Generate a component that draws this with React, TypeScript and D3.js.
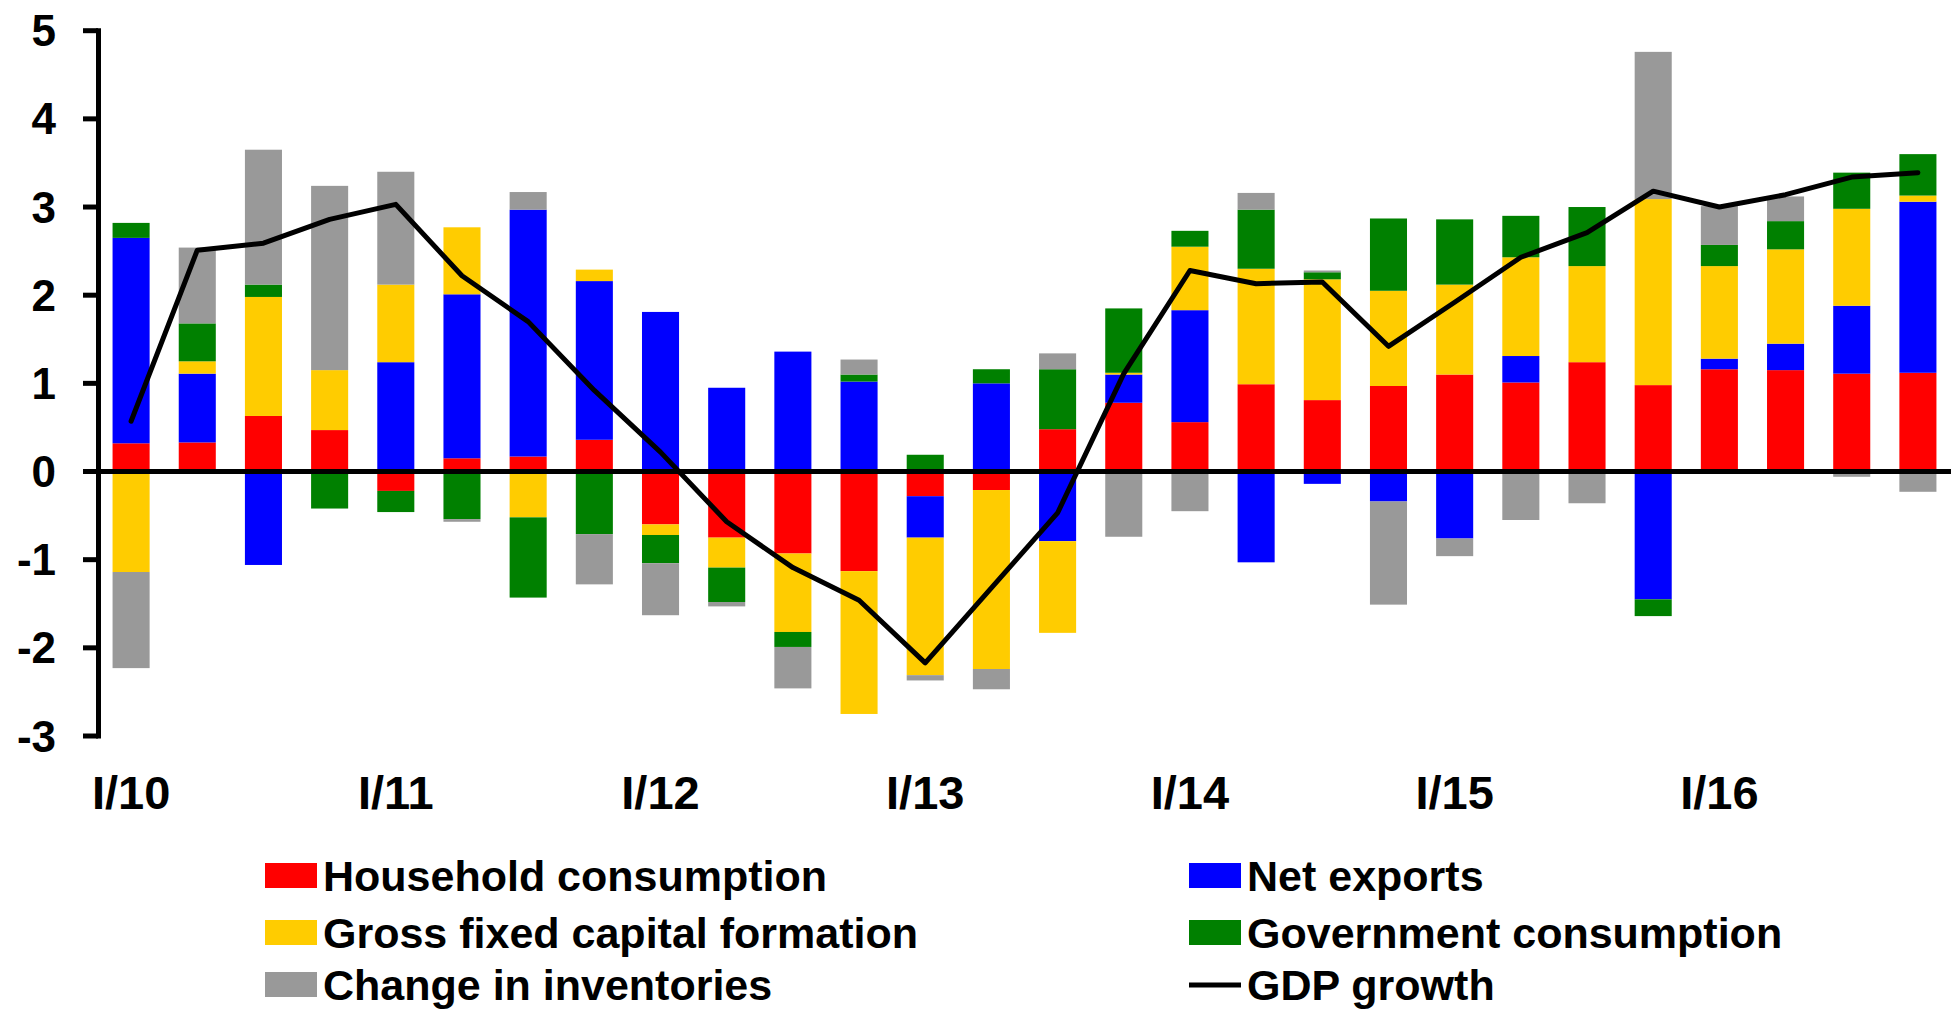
import React from "react";
import * as d3 from "d3";

const quarters: string[] = [];
const years = ["10", "11", "12", "13", "14", "15", "16"];
const qNames = ["I", "II", "III", "IV"];
years.forEach((y) => qNames.forEach((q) => quarters.push(`${q}/${y}`)));

const tickLabels = ["I/10", "I/11", "I/12", "I/13", "I/14", "I/15", "I/16"];
const yTicks = [-3, -2, -1, 0, 1, 2, 3, 4, 5];

const household = [0.32, 0.33, 0.63, 0.47, -0.22, 0.15, 0.17, 0.36, -0.6, -0.75, -0.93, -1.13, -0.28, -0.21, 0.48, 0.78, 0.56, 0.99, 0.81, 0.97, 1.1, 1.01, 1.24, 0.98, 1.16, 1.15, 1.11, 1.12];
const netExports = [2.33, 0.78, -1.06, 0, 1.24, 1.86, 2.8, 1.8, 1.81, 0.95, 1.36, 1.02, -0.47, 1.0, -0.79, 0.32, 1.27, -1.03, -0.14, -0.34, -0.76, 0.3, 0, -1.45, 0.12, 0.3, 0.77, 1.94];
const gfcf = [-1.14, 0.14, 1.35, 0.68, 0.88, 0.76, -0.52, 0.13, -0.12, -0.34, -0.89, -1.62, -1.56, -2.03, -1.04, 0.02, 0.72, 1.31, 1.37, 1.08, 1.02, 1.12, 1.09, 2.11, 1.05, 1.07, 1.1, 0.07];
const govt = [0.17, 0.43, 0.14, -0.42, -0.24, -0.54, -0.91, -0.71, -0.32, -0.39, -0.17, 0.08, 0.19, 0.16, 0.68, 0.73, 0.18, 0.67, 0.08, 0.82, 0.74, 0.47, 0.67, -0.19, 0.24, 0.32, 0.41, 0.47];
const inventories = [-1.09, 0.86, 1.53, 2.09, 1.28, -0.03, 0.2, -0.57, -0.59, -0.05, -0.47, 0.17, -0.06, -0.23, 0.18, -0.74, -0.45, 0.19, 0.02, -1.17, -0.2, -0.55, -0.36, 1.67, 0.44, 0.28, -0.06, -0.23];
const gdp = [0.57, 2.51, 2.59, 2.86, 3.03, 2.22, 1.7, 0.92, 0.22, -0.57, -1.09, -1.46, -2.17, -1.32, -0.47, 1.11, 2.28, 2.13, 2.15, 1.42, 1.92, 2.43, 2.71, 3.18, 3.0, 3.14, 3.34, 3.39];

const seriesKeys = ["household", "netExports", "gfcf", "govt", "inventories"];
const seriesNames = ["Household consumption", "Net exports", "Gross fixed capital formation", "Government consumption", "Change in inventories"];
const seriesColors = ["#FF0000", "#0000FF", "#FFCC00", "#008000", "#999999"];

const FONT = "'Liberation Sans', Arial, sans-serif";

export default function App() {
  const rows = quarters.map((q, i) => ({
    q,
    household: household[i],
    netExports: netExports[i],
    gfcf: gfcf[i],
    govt: govt[i],
    inventories: inventories[i],
  }));

  const x = d3.scaleBand<string>().domain(quarters).range([98, 1951]).paddingInner(0.44).paddingOuter(0.22);
  const y = d3.scaleLinear().domain([-3, 5]).range([736, 30.7]);

  const stacked = d3
    .stack<any>()
    .keys(seriesKeys)
    .order(d3.stackOrderNone)
    .offset(d3.stackOffsetDiverging)(rows);

  const line = d3
    .line<number>()
    .x((_, i) => (x(quarters[i]) as number) + x.bandwidth() / 2)
    .y((d) => y(d));

  const legendLeft = [
    { idx: 0, row: 0 },
    { idx: 2, row: 1 },
    { idx: 4, row: 2 },
  ];
  const legendRight = [
    { idx: 1, row: 0 },
    { idx: 3, row: 1 },
  ];
  const rowBase = [891, 948, 1000];
  const LFS = 43;

  return (
    <svg width={1952} height={1010} style={{ position: "absolute", left: 0, top: 0, background: "#fff" }}>
      <g>
        {stacked.map((s, si) => (
          <g key={s.key} fill={seriesColors[si]}>
            {s.map((d, i) => {
              const y0 = y(d[0]);
              const y1 = y(d[1]);
              const h = Math.abs(y0 - y1);
              if (h < 0.01) return null;
              return <rect key={i} x={x(quarters[i])} width={x.bandwidth()} y={Math.min(y0, y1)} height={h} />;
            })}
          </g>
        ))}
      </g>
      {/* zero line */}
      <line x1={83} x2={1951} y1={y(0)} y2={y(0)} stroke="#000" strokeWidth={5} />
      {/* y axis */}
      <line x1={98.5} x2={98.5} y1={y(5) - 2.5} y2={y(-3) + 2.5} stroke="#000" strokeWidth={5} />
      {yTicks.map((t) => (
        <g key={t}>
          <line x1={83} x2={98} y1={y(t)} y2={y(t)} stroke="#000" strokeWidth={5} />
          <text x={56} y={y(t) + 15.5} textAnchor="end" fontFamily={FONT} fontWeight="bold" fontSize={44} fill="#000">
            {t}
          </text>
        </g>
      ))}
      {/* GDP line */}
      <path d={line(gdp) as string} fill="none" stroke="#000" strokeWidth={5} strokeLinejoin="round" strokeLinecap="round" />
      {/* x labels */}
      {tickLabels.map((t) => (
        <text
          key={t}
          x={(x(t) as number) + x.bandwidth() / 2}
          y={809}
          textAnchor="middle"
          fontFamily={FONT}
          fontWeight="bold"
          fontSize={47}
          fill="#000"
        >
          {t}
        </text>
      ))}
      {/* legend */}
      {legendLeft.map(({ idx, row }) => (
        <g key={idx}>
          <rect x={265} y={rowBase[row] - 28} width={52} height={25} fill={seriesColors[idx]} />
          <text x={323} y={rowBase[row]} fontFamily={FONT} fontWeight="bold" fontSize={LFS} fill="#000">
            {seriesNames[idx]}
          </text>
        </g>
      ))}
      {legendRight.map(({ idx, row }) => (
        <g key={idx}>
          <rect x={1189} y={rowBase[row] - 28} width={52} height={25} fill={seriesColors[idx]} />
          <text x={1247} y={rowBase[row]} fontFamily={FONT} fontWeight="bold" fontSize={LFS} fill="#000">
            {seriesNames[idx]}
          </text>
        </g>
      ))}
      <line x1={1189} x2={1241} y1={rowBase[2] - 15} y2={rowBase[2] - 15} stroke="#000" strokeWidth={5} />
      <text x={1247} y={rowBase[2]} fontFamily={FONT} fontWeight="bold" fontSize={LFS} fill="#000">
        GDP growth
      </text>
    </svg>
  );
}
